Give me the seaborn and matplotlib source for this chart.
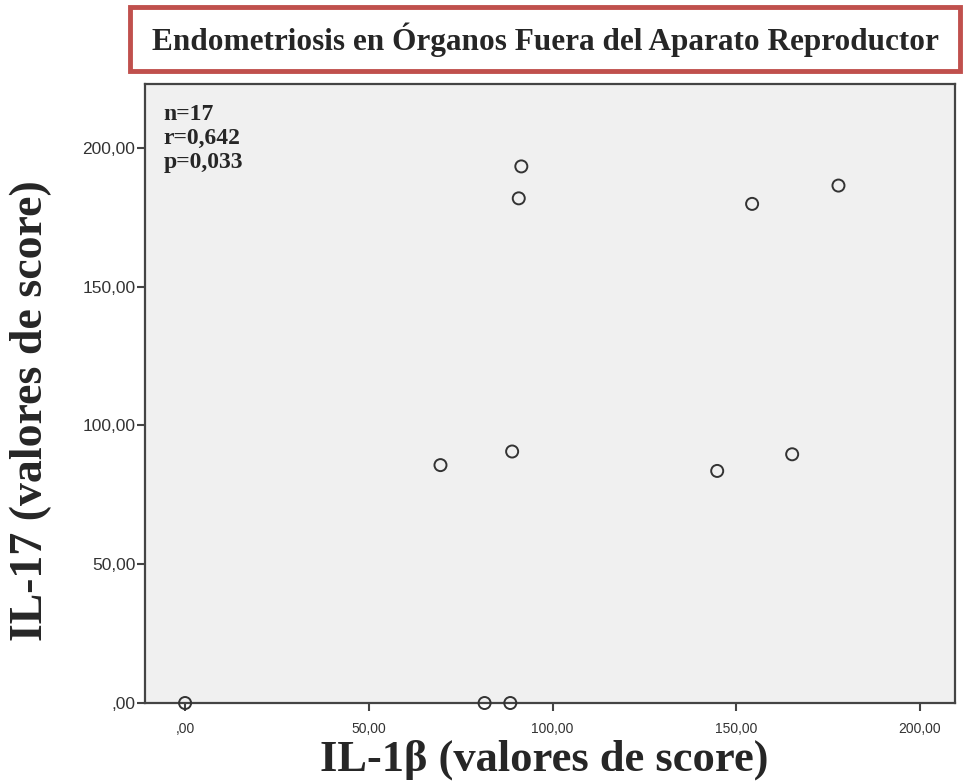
import pandas as pd
import matplotlib.pyplot as plt
import matplotlib.patches as patches
from matplotlib.ticker import FuncFormatter
import seaborn as sns

# Data (IL-1b score vs IL-17 score)
il1b = [0, 81.5, 88.5, 69.5, 89.0, 90.8, 91.5, 144.8, 154.3, 165.2, 177.8]
il17 = [0, 0, 0, 85.7, 90.6, 181.8, 193.3, 83.6, 179.8, 89.6, 186.4]
x_ticks = [0, 50, 100, 150, 200]
y_ticks = [0, 50, 100, 150, 200]
stats_lines = ['n=17', 'r=0,642', 'p=0,033']

df = pd.DataFrame({'IL1b': il1b, 'IL17': il17})

sns.set_style('white')
plt.rcParams['font.family'] = ['Liberation Sans', 'DejaVu Sans']
serif = ['Liberation Serif', 'DejaVu Serif']

fig = plt.figure(figsize=(9.7, 7.84), dpi=100)
ax = fig.add_axes([0.1495, 0.1033, 0.835, 0.7896])
ax.set_facecolor('#F0F0F0')

sns.scatterplot(data=df, x='IL1b', y='IL17', ax=ax, s=75, marker='o',
                facecolor='none', edgecolor='#333333', linewidth=1.4,
                clip_on=False, zorder=3)

ax.set_xlim(-10.9, 209.5)
ax.set_ylim(0, 223)
ax.set_xticks(x_ticks)
ax.set_yticks(y_ticks)

def comma_fmt(v, pos):
    s = f'{v:.2f}'.replace('.', ',')
    return s[1:] if s.startswith('0') else s

ax.xaxis.set_major_formatter(FuncFormatter(comma_fmt))
ax.yaxis.set_major_formatter(FuncFormatter(comma_fmt))
ax.tick_params(axis='both', direction='out', length=6, width=1.5,
               color='#444444', labelcolor='#333333',
               bottom=True, left=True)
ax.tick_params(axis='x', pad=8, labelsize=10)
ax.tick_params(axis='y', pad=1, labelsize=12.5)
for sp in ax.spines.values():
    sp.set_color('#444444')
    sp.set_linewidth(1.6)

ax.set_xlabel('IL-1β (valores de score)', family=serif, fontweight='bold',
              fontsize=32)
ax.set_ylabel('IL-17 (valores de score)', family=serif, fontweight='bold',
              fontsize=33)
ax.xaxis.set_label_coords(0.4926, -0.0595)
ax.yaxis.set_label_coords(-0.115, 0.473)

ax.text(0.023, 0.968, '\n'.join(stats_lines), transform=ax.transAxes,
        family=serif, fontweight='bold', fontsize=17, va='top', ha='left',
        linespacing=1.2)

# Title box with red border
fig.patches.append(patches.Rectangle((0.1340, 0.9095), 0.8555, 0.0810,
                                     transform=fig.transFigure, fill=False,
                                     edgecolor='#C0504D', linewidth=3.5))
fig.text(0.562, 0.949, 'Endometriosis en Órganos Fuera del Aparato Reproductor',
         family=serif, fontweight='bold', fontsize=22.5, ha='center',
         va='center')

fig.savefig('out.png', dpi=100)
